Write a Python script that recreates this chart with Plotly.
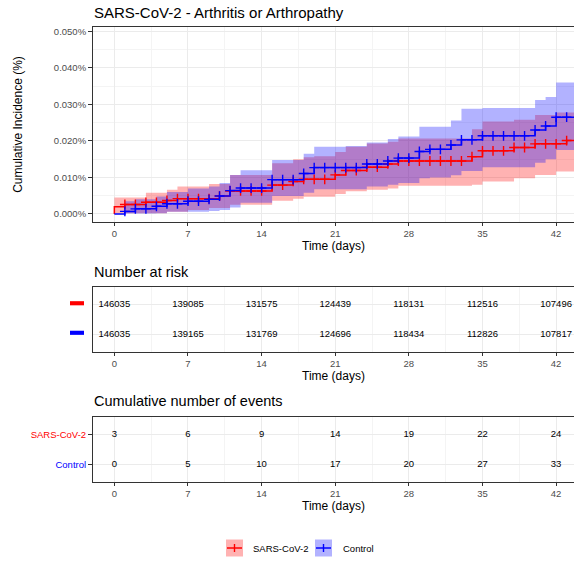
import plotly.graph_objects as go

# ---------------- data ----------------
days = list(range(44))
end_day = 44

# SARS-CoV-2 cumulative incidence (%) per day, with 95% CI
sars_est = [0.0020, 0.0026, 0.0026, 0.0032, 0.0032, 0.0037, 0.0042, 0.0042, 0.0042, 0.0042,
            0.0049, 0.0063, 0.0063, 0.0063, 0.0063, 0.0079, 0.0079, 0.0089, 0.0095, 0.0095,
            0.0095, 0.0107, 0.0119, 0.0119, 0.0128, 0.0128, 0.0137, 0.0145, 0.0145, 0.0145,
            0.0145, 0.0145, 0.0145, 0.0145, 0.0157, 0.0173, 0.0173, 0.0173, 0.0182, 0.0182,
            0.0192, 0.0192, 0.0192, 0.0201]
sars_hi = [0.0045, 0.0045, 0.0045, 0.0058, 0.0058, 0.0066, 0.0075, 0.0075, 0.0075, 0.0082,
           0.0082, 0.0107, 0.0107, 0.0107, 0.0107, 0.0139, 0.0139, 0.0150, 0.0155, 0.0158,
           0.0158, 0.0170, 0.0184, 0.0184, 0.0193, 0.0193, 0.0198, 0.0207, 0.0207, 0.0207,
           0.0207, 0.0207, 0.0207, 0.0207, 0.0232, 0.0253, 0.0253, 0.0253, 0.0258, 0.0258,
           0.0271, 0.0271, 0.0278, 0.0278]
sars_lo = [0.0002, 0.0002, 0.0002, 0.0002, 0.0002, 0.0006, 0.0006, 0.0011, 0.0011, 0.0016,
           0.0016, 0.0025, 0.0025, 0.0025, 0.0025, 0.0036, 0.0036, 0.0042, 0.0047, 0.0047,
           0.0047, 0.0055, 0.0062, 0.0062, 0.0066, 0.0066, 0.0070, 0.0077, 0.0077, 0.0077,
           0.0077, 0.0077, 0.0077, 0.0077, 0.0080, 0.0089, 0.0089, 0.0089, 0.0098, 0.0098,
           0.0107, 0.0107, 0.0116, 0.0116]

# Control cumulative incidence (%) per day, with 95% CI
ctrl_est = [0.0000, 0.0007, 0.0014, 0.0014, 0.0021, 0.0028, 0.0028, 0.0035, 0.0035, 0.0040,
            0.0049, 0.0064, 0.0071, 0.0071, 0.0071, 0.0094, 0.0094, 0.0094, 0.0111, 0.0127,
            0.0127, 0.0127, 0.0127, 0.0127, 0.0137, 0.0137, 0.0145, 0.0153, 0.0153, 0.0171,
            0.0177, 0.0177, 0.0189, 0.0203, 0.0203, 0.0214, 0.0214, 0.0214, 0.0214, 0.0214,
            0.0230, 0.0241, 0.0265, 0.0265]
ctrl_hi = [0.0000, 0.0035, 0.0040, 0.0040, 0.0048, 0.0060, 0.0060, 0.0070, 0.0070, 0.0075,
           0.0085, 0.0107, 0.0120, 0.0120, 0.0120, 0.0148, 0.0148, 0.0148, 0.0165, 0.0184,
           0.0184, 0.0184, 0.0186, 0.0186, 0.0196, 0.0196, 0.0205, 0.0212, 0.0212, 0.0239,
           0.0239, 0.0239, 0.0256, 0.0288, 0.0288, 0.0290, 0.0290, 0.0290, 0.0290, 0.0290,
           0.0312, 0.0320, 0.0360, 0.0360]
ctrl_lo = [0.0000, 0.0001, 0.0001, 0.0001, 0.0002, 0.0006, 0.0006, 0.0006, 0.0006, 0.0008,
           0.0011, 0.0018, 0.0031, 0.0031, 0.0031, 0.0049, 0.0049, 0.0049, 0.0058, 0.0068,
           0.0068, 0.0068, 0.0068, 0.0068, 0.0075, 0.0075, 0.0080, 0.0085, 0.0085, 0.0098,
           0.0100, 0.0100, 0.0106, 0.0118, 0.0118, 0.0128, 0.0128, 0.0128, 0.0128, 0.0128,
           0.0140, 0.0150, 0.0175, 0.0175]

table_times = [0, 7, 14, 21, 28, 35, 42]
risk_sars = [146035, 139085, 131575, 124439, 118131, 112516, 107496]
risk_ctrl = [146035, 139165, 131769, 124696, 118434, 112826, 107817]
events_sars = [3, 6, 9, 14, 19, 22, 24]
events_ctrl = [0, 5, 10, 17, 20, 27, 33]

y_ticks = [0.0, 0.01, 0.02, 0.03, 0.04, 0.05]
y_ticktext = ["0.000%", "0.010%", "0.020%", "0.030%", "0.040%", "0.050%"]

groups = ["SARS-CoV-2", "Control"]
line_colors = {"SARS-CoV-2": "#FF0000", "Control": "#0000FF"}
fill_colors = {"SARS-CoV-2": "rgba(255,0,0,0.30)", "Control": "rgba(0,0,255,0.30)"}

# ---------------- figure ----------------
FONT = "Liberation Sans, Arial, sans-serif"
W, H = 574, 563
ML = 93
PW = W - ML


def px_x(p):
    return (p - ML) / PW


def px_y(p):
    return 1 - p / H


fig = go.Figure()

series = {
    "SARS-CoV-2": (sars_est, sars_lo, sars_hi),
    "Control": (ctrl_est, ctrl_lo, ctrl_hi),
}

x_ext = days + [end_day]

# confidence bands
for g in groups:
    est, lo, hi = series[g]
    fig.add_trace(go.Scatter(x=x_ext, y=lo + [lo[-1]], mode="lines", line=dict(width=0, shape="hv"),
                             showlegend=False, hoverinfo="skip", xaxis="x", yaxis="y"))
    fig.add_trace(go.Scatter(x=x_ext, y=hi + [hi[-1]], mode="lines", line=dict(width=0, shape="hv"),
                             fill="tonexty", fillcolor=fill_colors[g], showlegend=False,
                             hoverinfo="skip", xaxis="x", yaxis="y"))

# estimate lines with censor marks
for g in groups:
    est, lo, hi = series[g]
    fig.add_trace(go.Scatter(x=[0] + x_ext, y=[0.0] + est + [est[-1]], mode="lines",
                             line=dict(color=line_colors[g], width=1.5, shape="hv"),
                             name=g, showlegend=False, xaxis="x", yaxis="y"))
    fig.add_trace(go.Scatter(x=days[1:], y=est[1:], mode="markers",
                             marker=dict(symbol="cross-thin", size=7,
                                         line=dict(color=line_colors[g], width=1.4)),
                             showlegend=False, hoverinfo="skip", xaxis="x", yaxis="y"))

# number at risk table
for row, (g, vals) in enumerate([("Control", risk_ctrl), ("SARS-CoV-2", risk_sars)]):
    fig.add_trace(go.Scatter(x=table_times, y=[row] * len(table_times), mode="text",
                             text=[str(v) for v in vals],
                             textfont=dict(size=9.5, color="black", family=FONT),
                             showlegend=False, xaxis="x2", yaxis="y2"))

# cumulative events table
for row, (g, vals) in enumerate([("Control", events_ctrl), ("SARS-CoV-2", events_sars)]):
    fig.add_trace(go.Scatter(x=table_times, y=[row] * len(table_times), mode="text",
                             text=[str(v) for v in vals],
                             textfont=dict(size=9.5, color="black", family=FONT),
                             showlegend=False, xaxis="x3", yaxis="y3"))

GRID = "#EBEBEB"
MINOR = "#F4F4F4"
BORDER = "#333333"
TICKC = "#4D4D4D"
XR = [-2.03, 43.7]


def xaxis_common(anchor):
    return dict(
        anchor=anchor, domain=[0, 1], range=XR, tickvals=table_times,
        ticks="outside", ticklen=3, tickcolor=BORDER, tickwidth=1,
        tickfont=dict(size=9.5, color=TICKC, family=FONT),
        showgrid=True, gridcolor=GRID, gridwidth=1,
        minor=dict(tick0=0, dtick=3.5, showgrid=True, gridcolor=MINOR, gridwidth=0.6, ticks=""),
        showline=True, linecolor=BORDER, linewidth=1, mirror=True, zeroline=False,
        title=dict(text="Time (days)", font=dict(size=12, color="black", family=FONT), standoff=2),
    )


fig.update_layout(
    width=W, height=H,
    margin=dict(l=ML, r=0, t=0, b=0),
    paper_bgcolor="white", plot_bgcolor="white",
    font=dict(family=FONT),
    showlegend=False,
    xaxis=xaxis_common("y"),
    xaxis2=xaxis_common("y2"),
    xaxis3=xaxis_common("y3"),
    yaxis=dict(
        anchor="x", domain=[px_y(222), px_y(27)], range=[-0.0022, 0.0512],
        tickvals=y_ticks, ticktext=y_ticktext,
        ticks="outside", ticklen=4, tickcolor=BORDER,
        tickfont=dict(size=9.5, color=TICKC, family=FONT),
        showgrid=True, gridcolor=GRID,
        minor=dict(dtick=0.005, tick0=0, showgrid=True, gridcolor=MINOR, gridwidth=0.6, ticks=""),
        showline=True, linecolor=BORDER, linewidth=1, zeroline=False,
        title=dict(text="Cumulative Incidence (%)", font=dict(size=12, color="black", family=FONT),
                   standoff=28),
    ),
    yaxis2=dict(
        anchor="x2", domain=[px_y(352), px_y(287)], range=[-0.6, 1.6],
        tickvals=[0, 1], showticklabels=False, ticks="",
        showgrid=True, gridcolor=GRID,
        showline=True, linecolor=BORDER, linewidth=1, zeroline=False,
    ),
    yaxis3=dict(
        anchor="x3", domain=[px_y(482), px_y(417)], range=[-0.6, 1.6],
        tickvals=[0, 1],
        ticktext=["<span style='color:#0000FF'>Control</span>",
                  "<span style='color:#FF0000'>SARS-CoV-2</span>"],
        ticks="outside", ticklen=4, tickcolor=BORDER,
        tickfont=dict(size=9.5, family=FONT),
        showgrid=True, gridcolor=GRID,
        showline=True, linecolor=BORDER, linewidth=1, zeroline=False,
    ),
)

# titles
fig.add_annotation(text="SARS-CoV-2 - Arthritis or Arthropathy", xref="paper", yref="paper",
                   x=px_x(92), y=px_y(12), xanchor="left", yanchor="middle", showarrow=False,
                   font=dict(size=15, color="black", family=FONT))
fig.add_annotation(text="Number at risk", xref="paper", yref="paper",
                   x=px_x(92), y=px_y(272), xanchor="left", yanchor="middle", showarrow=False,
                   font=dict(size=14.5, color="black", family=FONT))
fig.add_annotation(text="Cumulative number of events", xref="paper", yref="paper",
                   x=px_x(92), y=px_y(401), xanchor="left", yanchor="middle", showarrow=False,
                   font=dict(size=14.5, color="black", family=FONT))

# colour keys of the risk table rows
for row, g in [(1, "SARS-CoV-2"), (0, "Control")]:
    fig.add_shape(type="rect", xref="paper", yref="y2", x0=px_x(70), x1=px_x(84),
                  y0=row - 0.02, y1=row + 0.12, fillcolor=line_colors[g], line=dict(width=0))

# legend (ggplot-style keys)
legend_items = [("SARS-CoV-2", 226, 251), ("Control", 315, 341)]
for g, bx, tx in legend_items:
    cy = 548
    fig.add_shape(type="rect", xref="paper", yref="paper", x0=px_x(bx), x1=px_x(bx + 17),
                  y0=px_y(cy + 8.5), y1=px_y(cy - 8.5), fillcolor=fill_colors[g], line=dict(width=0))
    fig.add_shape(type="line", xref="paper", yref="paper", x0=px_x(bx + 1), x1=px_x(bx + 16),
                  y0=px_y(cy), y1=px_y(cy), line=dict(color=line_colors[g], width=1.5))
    fig.add_shape(type="line", xref="paper", yref="paper", x0=px_x(bx + 8.5), x1=px_x(bx + 8.5),
                  y0=px_y(cy - 4), y1=px_y(cy + 4), line=dict(color=line_colors[g], width=1.4))
    fig.add_annotation(text=g, xref="paper", yref="paper", x=px_x(tx), y=px_y(cy),
                       xanchor="left", yanchor="middle", showarrow=False,
                       font=dict(size=9.5, color="black", family=FONT))

fig.write_html("out.html",
               config={"displayModeBar": False},
               post_script="document.body.style.margin='0px';document.body.style.overflow='hidden';")
